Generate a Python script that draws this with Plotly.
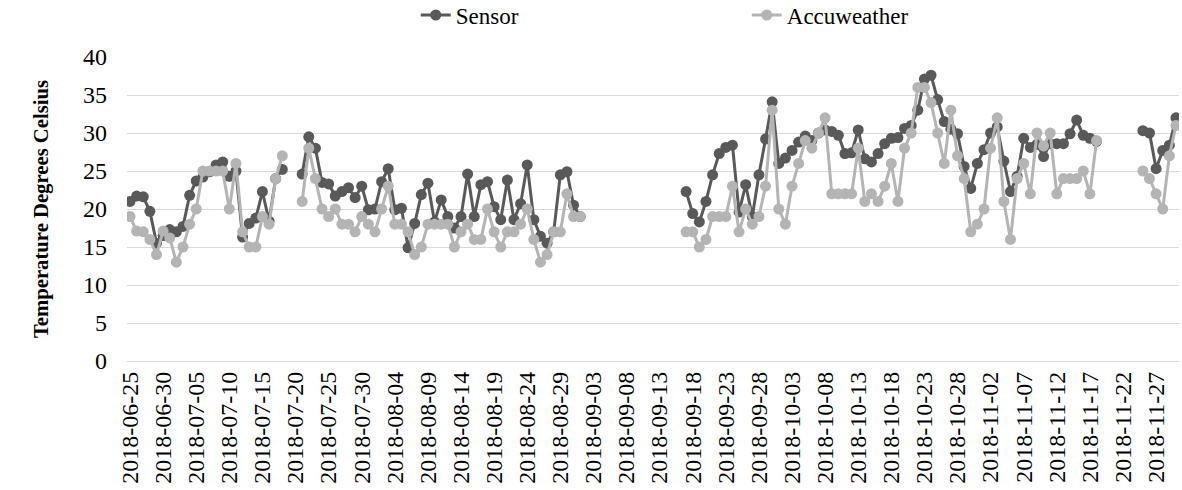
import pandas as pd
import plotly.graph_objects as go

dates = [d.strftime("%Y-%m-%d") for d in pd.date_range("2018-06-25", "2018-11-30", freq="D")]

sensor = (
    [21.0, 21.7, 21.6, 19.7, 15.5, 16.5, 17.3, 17.0, 17.7, 21.8, 23.7, 24.2,
     24.9, 25.8, 26.2, 24.3, 25.0, 16.3, 18.1, 18.8, 22.3, 18.4, 24.0, 25.2]
    + [None] * 2
    + [24.6, 29.5, 28.0, 23.5, 23.3, 21.7, 22.3, 22.8, 21.5, 23.0, 19.9, 20.0,
       23.6, 25.3, 19.9, 20.1, 14.9, 18.1, 21.9, 23.4, 18.3, 21.2, 19.0, 17.5,
       19.0, 24.6, 19.0, 23.2, 23.6, 20.3, 18.6, 23.8, 18.6, 20.7, 25.8, 18.6,
       16.4, 15.5, 17.0, 24.5, 24.9, 20.5, 19.0]
    + [None] * 15
    + [22.3, 19.4, 18.3, 21.0, 24.5, 27.3, 28.1, 28.4, 19.6, 23.2, 19.0, 24.5,
       29.2, 34.1, 26.0, 26.7, 27.7, 28.8, 29.6, 29.0, 30.0, 30.4, 30.2, 29.7,
       27.3, 27.4, 30.4, 26.6, 26.2, 27.3, 28.6, 29.3, 29.4, 30.6, 31.0, 33.0,
       37.1, 37.6, 34.4, 31.5, 30.5, 29.9, 25.6, 22.7, 26.0, 27.8, 30.0, 30.8,
       26.3, 22.3, 24.3, 29.3, 28.1, 28.5, 26.9, 28.6, 28.6, 28.6, 29.9, 31.7,
       29.7, 29.3, 28.9]
    + [None] * 6
    + [30.3, 30.0, 25.3, 27.7, 28.4, 32.0]
)

accuweather = (
    [19, 17.1, 17, 16, 14, 17.1, 16.2, 13, 15, 18, 20, 25,
     25, 25, 25, 20, 26, 17, 15, 15, 19, 18, 24, 27]
    + [None] * 2
    + [21, 28, 24, 20, 19, 20, 18, 18, 17, 19, 18, 17,
       20, 23, 18, 18, 17, 14, 15, 18, 18, 18, 18, 15,
       17, 18, 16, 16, 20, 17, 15, 17, 17, 18, 20, 16,
       13, 14, 17, 17, 22, 19, 19]
    + [None] * 15
    + [17, 17, 15, 16, 19, 19, 19, 23, 17, 20, 18, 19,
       23, 33, 20, 18, 23, 26, 29, 28, 30, 32, 22, 22,
       22, 22, 28, 21, 22, 21, 23, 26, 21, 28, 30, 36,
       36, 34, 30, 26, 33, 27, 24, 17, 18, 20, 28, 32,
       21, 16, 24, 26, 22, 30, 28.3, 30, 22, 24, 24, 24,
       25, 22, 29]
    + [None] * 6
    + [25, 24, 22, 20, 27, 31]
)

tick_labels = dates[::5]

FONT = "Liberation Serif"
DARK = "#595959"
LIGHT = "#b4b4b4"

fig = go.Figure()
fig.add_trace(go.Scatter(
    x=dates, y=sensor, name="Sensor", mode="lines+markers",
    line=dict(color=DARK, width=3), marker=dict(color=DARK, size=11),
    connectgaps=False,
))
fig.add_trace(go.Scatter(
    x=dates, y=accuweather, name="Accuweather", mode="lines+markers",
    line=dict(color=LIGHT, width=3), marker=dict(color=LIGHT, size=11),
    connectgaps=False,
))

fig.update_layout(
    template="none",
    width=1182, height=490,
    margin=dict(l=127, r=3, t=57, b=129, autoexpand=False),
    paper_bgcolor="white", plot_bgcolor="white",
    font=dict(family=FONT, color="black", size=22),
    showlegend=True,
    legend=dict(orientation="h", x=0.2745, xanchor="left", y=1.138, yanchor="middle",
                font=dict(family=FONT, size=23), entrywidth=286, entrywidthmode="pixels",
                bgcolor="rgba(0,0,0,0)"),
    xaxis=dict(
        type="date", automargin=False,
        range=["2018-06-24 13:00", "2018-11-30 11:00"],
        tickmode="array", tickvals=tick_labels, ticktext=tick_labels,
        tickangle=-90, showgrid=False, showline=True, linecolor="#d9d9d9", linewidth=1.3,
        zeroline=False, tickfont=dict(family=FONT, size=24), ticks="",
    ),
    yaxis=dict(
        automargin=False,
        range=[0, 40], dtick=5, tick0=0, showgrid=True, gridcolor="#d9d9d9", gridwidth=1.3,
        zeroline=False, ticks="", showline=False, tickfont=dict(family=FONT, size=24),
        ticklabelstandoff=19,
        title=dict(text="<b>Temperature Degrees Celsius</b>", font=dict(family=FONT, size=20.7),
                   standoff=28),
    ),
)

fig.write_html(
    "out.html",
    config={"displayModeBar": False},
    post_script="document.body.style.margin='0';document.body.style.overflow='hidden';",
)
